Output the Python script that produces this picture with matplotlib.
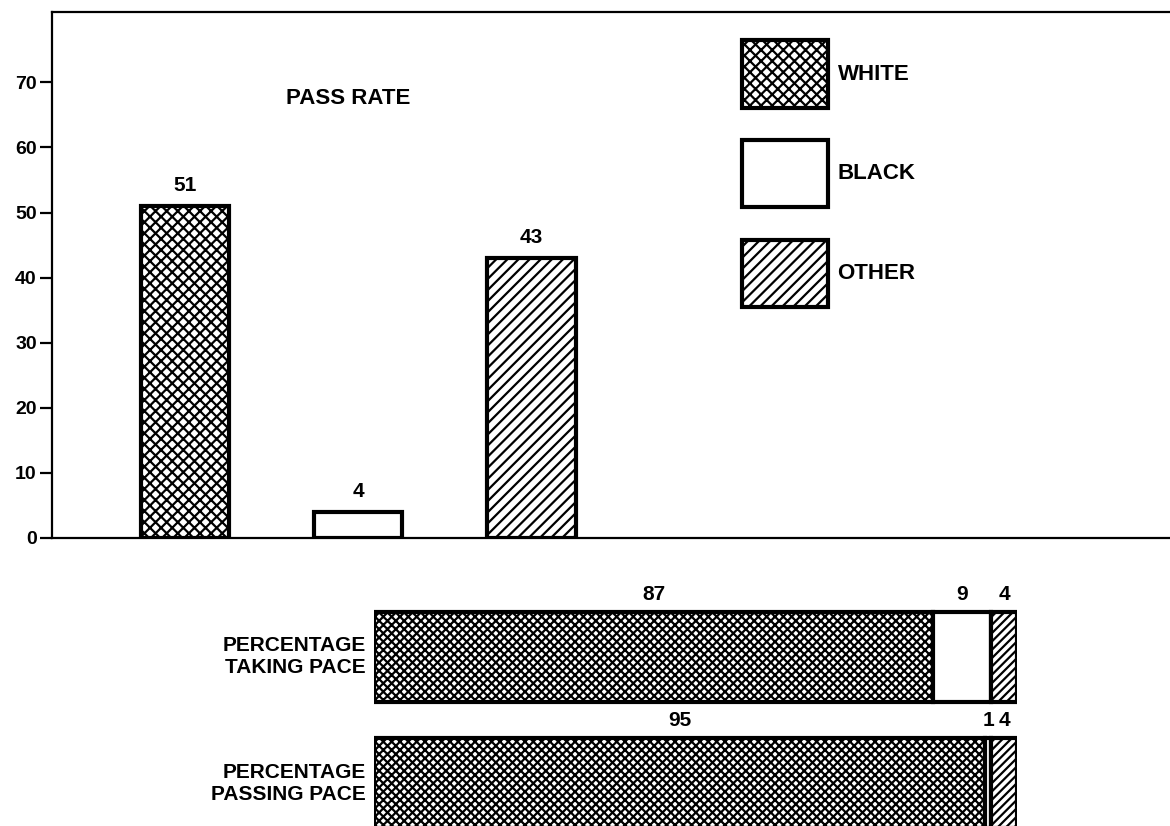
import matplotlib
matplotlib.use("Agg")
import matplotlib.pyplot as plt
from matplotlib.patches import Patch

plt.rcParams["font.family"] = ["Liberation Sans", "DejaVu Sans"]
plt.rcParams["hatch.linewidth"] = 1.6

# data
groups = ["WHITE", "BLACK", "OTHER"]
pass_rate = [51, 4, 43]
row_labels = ["PERCENTAGE\nTAKING PACE", "PERCENTAGE\nPASSING PACE"]
share_taking = [87, 9, 4]
share_passing = [95, 1, 4]
hatches_top = ["xxx", "", "///"]
hatches_bottom = ["xxxx", "", "////"]

fig = plt.figure(figsize=(11.7, 8.26), dpi=100)

# ---- upper panel: pass rate by group
ax = fig.add_axes([52 / 1170, 1 - 538 / 826, 1 - 52 / 1170, (538 - 12) / 826])
xs = range(len(groups))
ax.bar(xs, pass_rate, width=0.51, color="white", edgecolor="black",
       linewidth=3, hatch=hatches_top)
for x, v in zip(xs, pass_rate):
    ax.annotate(str(v), (x, v), xytext=(0, 8), textcoords="offset points",
                ha="center", va="bottom", fontsize=15, fontweight="bold")

ax.set_xlim(-0.77, 5.69)
ax.set_ylim(0, 80.8)
ax.set_yticks(range(0, 71, 10))
ax.set_xticks([])
ax.tick_params(axis="y", direction="out", length=9, width=1.6, pad=2,
               labelsize=14)
for lab in ax.get_yticklabels():
    lab.set_fontweight("bold")
for side in ["left", "bottom", "top"]:
    ax.spines[side].set_linewidth(1.6)
ax.spines["right"].set_visible(False)

ax.text(0.94, 67.5, "PASS RATE", ha="center", va="center", fontsize=16,
        fontweight="bold")

handles = [Patch(facecolor="white", edgecolor="black", linewidth=3, hatch=h)
           for h in hatches_top]
ax.legend(handles, groups, loc="upper left",
          bbox_to_anchor=(742 / 1170, 1 - 40 / 826),
          bbox_transform=fig.transFigure, frameon=False,
          prop={"weight": "bold", "size": 16},
          handlelength=3.85, handleheight=4.3, labelspacing=1.45,
          handletextpad=0.45, borderpad=0, borderaxespad=0)

# ---- lower panel: composition of test takers / passers
bx = fig.add_axes([374 / 1170, 0, (1017 - 374) / 1170, 236 / 826])
for row, shares in enumerate([share_taking, share_passing]):
    left = 0
    for v, h in zip(shares, hatches_bottom):
        bx.barh(row, v, left=left, height=0.71, color="white",
                edgecolor="black", linewidth=3, hatch=h)
        bx.annotate(str(v), (left + v / 2, row - 0.355), xytext=(0, 6),
                    textcoords="offset points", ha="center", va="bottom",
                    fontsize=15, fontweight="bold")
        left += v
    bx.annotate(row_labels[row], (0, row), xytext=(-6, 0),
                textcoords="offset points", ha="right", va="center",
                fontsize=15, fontweight="bold", linespacing=1.2)

bx.set_xlim(0, 100)
bx.set_ylim(1.34, -0.53)
bx.axis("off")

fig.savefig("out.png", dpi=100)
